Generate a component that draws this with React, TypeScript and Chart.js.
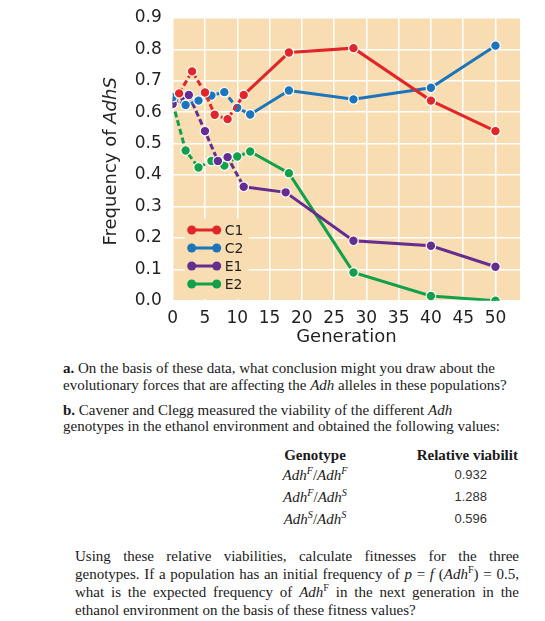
import React, { useEffect, useRef } from "react";
import { Chart, registerables } from "chart.js";

Chart.register(...registerables);

// ---- data ----
const seriesLabels = ["C1", "C2", "E1", "E2"];
const seriesColors = ["#e1262a", "#1c75bc", "#662d91", "#12a04b"];

const c1Gen = [1, 3, 5, 6.5, 8.5, 11, 18, 28, 40, 50];
const c1Freq = [0.66, 0.73, 0.663, 0.592, 0.578, 0.655, 0.79, 0.804, 0.637, 0.54];

const c2Gen = [0, 2, 4, 6, 8, 10, 12, 18, 28, 40, 50];
const c2Freq = [0.648, 0.623, 0.637, 0.653, 0.664, 0.614, 0.593, 0.669, 0.641, 0.678, 0.812];

const e1Gen = [0, 2.5, 5, 7, 8.5, 11, 17.5, 28, 40, 50];
const e1Freq = [0.626, 0.655, 0.54, 0.445, 0.457, 0.363, 0.345, 0.191, 0.175, 0.108];

const e2Gen = [0, 2, 4, 6, 8, 10, 12, 18, 28, 40, 50];
const e2Freq = [0.63, 0.478, 0.424, 0.445, 0.43, 0.459, 0.475, 0.406, 0.09, 0.015, 0.0];

const xTicks = [0, 5, 10, 15, 20, 25, 30, 35, 40, 45, 50];
const yTicks = [0, 0.1, 0.2, 0.3, 0.4, 0.5, 0.6, 0.7, 0.8, 0.9];

const genotypes = [
  ["F", "F"],
  ["F", "S"],
  ["S", "S"],
];
const viabilities = ["0.932", "1.288", "0.596"];

const PLOT_BG = "#f7ddb1";
const TEXT = "#231f20";
const SANS = '"DejaVu Sans", sans-serif';
const SERIF = '"Liberation Serif", "Times New Roman", serif';

const toPoints = (gen: number[], freq: number[]) =>
  gen.map((g, i) => ({ x: g, y: freq[i] }));

const decorPlugin = {
  id: "decor",
  beforeDraw(chart: any) {
    const { ctx, chartArea: a } = chart;
    ctx.save();
    ctx.fillStyle = PLOT_BG;
    ctx.fillRect(a.left, a.top, a.right - a.left, a.bottom - a.top);
    ctx.restore();
  },
  afterDraw(chart: any) {
    const { ctx, chartArea: a } = chart;
    ctx.save();
    // legend box (covers grid)
    ctx.fillStyle = PLOT_BG;
    ctx.fillRect(a.left + 12, a.bottom - 82, 64, 80);
    const rowsY = [-70.7, -52.7, -34.7, -16.7];
    chart.data.datasets.forEach((ds: any, i: number) => {
      const y = a.bottom + rowsY[i];
      const x1 = a.left + 19;
      const x2 = a.left + 44;
      ctx.strokeStyle = ds.borderColor;
      ctx.lineWidth = 3;
      ctx.beginPath();
      ctx.moveTo(x1, y);
      ctx.lineTo(x2, y);
      ctx.stroke();
      ctx.fillStyle = ds.borderColor;
      [x1, x2].forEach((x) => {
        ctx.beginPath();
        ctx.arc(x, y, 4.5, 0, Math.PI * 2);
        ctx.fill();
      });
      ctx.fillStyle = TEXT;
      ctx.font = `14px ${SANS}`;
      ctx.textBaseline = "middle";
      ctx.textAlign = "left";
      ctx.fillText(ds.label, a.left + 52, y + 1);
    });
    // y-axis title with italic part
    const part1 = "Frequency of ";
    const part2 = "AdhS";
    ctx.font = `18px ${SANS}`;
    const w1 = ctx.measureText(part1).width;
    ctx.font = `italic 18px ${SANS}`;
    const w2 = ctx.measureText(part2).width;
    const total = w1 + w2;
    const cx = 103;
    const cy = (a.top + a.bottom) / 2 + 2;
    ctx.translate(cx, cy);
    ctx.rotate(-Math.PI / 2);
    ctx.fillStyle = TEXT;
    ctx.textBaseline = "middle";
    ctx.textAlign = "left";
    ctx.font = `18px ${SANS}`;
    ctx.fillText(part1, -total / 2, 0);
    ctx.font = `italic 18px ${SANS}`;
    ctx.fillText(part2, -total / 2 + w1, 0);
    ctx.restore();
  },
};

function FreqChart() {
  const ref = useRef<HTMLCanvasElement | null>(null);
  useEffect(() => {
    if (!ref.current) return;
    const gens = [c1Gen, c2Gen, e1Gen, e2Gen];
    const freqs = [c1Freq, c2Freq, e1Freq, e2Freq];
    const chart = new Chart(ref.current, {
      type: "line",
      data: {
        datasets: seriesLabels.map((label, i) => ({
          label,
          data: toPoints(gens[i], freqs[i]),
          borderColor: seriesColors[i],
          backgroundColor: seriesColors[i],
          pointBackgroundColor: seriesColors[i],
          pointBorderColor: "#ffffff",
          pointBorderWidth: 1.2,
          pointRadius: 4.8,
          borderWidth: 3,
          tension: 0,
          fill: false,
          segment: {
            borderDash: (ctx: any) => (ctx.p1.parsed.x <= 12.5 ? [6, 3] : undefined),
          },
        })),
      },
      options: {
        animation: false,
        responsive: true,
        maintainAspectRatio: false,
        layout: { padding: { left: 0, right: 17, top: 10, bottom: 0 } },
        plugins: { legend: { display: false }, tooltip: { enabled: false } },
        scales: {
          x: {
            type: "linear",
            min: 0,
            max: 53.8,
            afterBuildTicks: (s: any) => {
              s.ticks = xTicks.map((v) => ({ value: v }));
            },
            afterFit: (s: any) => {
              s.height = 52.3;
              s.paddingLeft = 0;
              s.paddingRight = 0;
            },
            grid: { color: "#ffffff", lineWidth: 1.5, drawTicks: false },
            border: { display: false },
            ticks: {
              color: TEXT,
              padding: 8,
              font: { family: SANS, size: 17 },
              maxRotation: 0,
              autoSkip: false,
            },
            title: {
              display: true,
              text: "Generation",
              color: TEXT,
              font: { family: SANS, size: 18 },
              padding: { top: 0, bottom: 5 },
            },
          },
          y: {
            type: "linear",
            min: 0,
            max: 0.9,
            afterBuildTicks: (s: any) => {
              s.ticks = yTicks.map((v) => ({ value: v }));
            },
            afterFit: (s: any) => {
              s.width = 164.7;
              s.paddingTop = 0;
              s.paddingBottom = 0;
            },
            grid: { color: "#ffffff", lineWidth: 1.5, drawTicks: false },
            border: { display: false },
            ticks: {
              color: TEXT,
              padding: 11,
              font: { family: SANS, size: 17 },
              callback: (v: any) => Number(v).toFixed(1),
            },
          },
        },
      },
      plugins: [decorPlugin],
    });
    return () => chart.destroy();
  }, []);
  return <canvas ref={ref} />;
}

const italic = { fontStyle: "italic" as const };
const sup = { fontSize: "0.68em", lineHeight: 0, verticalAlign: "0.55em" };

function Adh({ s, upright }: { s: string; upright?: boolean }) {
  return (
    <span>
      <span style={italic}>Adh</span>
      <span style={{ ...sup, fontStyle: upright ? "normal" : "italic" }}>{s}</span>
    </span>
  );
}

export default function App() {
  useEffect(() => {
    document.documentElement.style.overflow = "hidden";
    document.body.style.overflow = "hidden";
  }, []);
  const justLine = {
    textAlign: "justify" as const,
    textAlignLast: "justify" as const,
    whiteSpace: "nowrap" as const,
    height: 18.3,
  };
  return (
    <div style={{ position: "relative", width: 529, height: 613, color: "#1a1a1a" }}>
      <div style={{ position: "absolute", left: 0, top: 0, width: 529, height: 345 }}>
        <FreqChart />
      </div>

      <div
        style={{
          position: "absolute",
          left: 55,
          top: 351.5,
          width: 474,
          font: `15px/17px ${SERIF}`,
          whiteSpace: "nowrap",
        }}
      >
        <b>a.</b> On the basis of these data, what conclusion might you draw about the
        <br />
        evolutionary forces that are affecting the <i>Adh</i> alleles in these populations?
      </div>

      <div
        style={{
          position: "absolute",
          left: 55,
          top: 394,
          width: 474,
          font: `15px/16px ${SERIF}`,
          whiteSpace: "nowrap",
        }}
      >
        <b>b.</b> Cavener and Clegg measured the viability of the different <i>Adh</i>
        <br />
        genotypes in the ethanol environment and obtained the following values:
      </div>

      <div
        style={{
          position: "absolute",
          left: 237,
          top: 437,
          width: 140,
          textAlign: "center",
          font: `bold 15px/20px ${SERIF}`,
        }}
      >
        Genotype
      </div>
      <div
        style={{
          position: "absolute",
          left: 408.7,
          top: 437,
          font: `bold 15px/20px ${SERIF}`,
          whiteSpace: "nowrap",
        }}
      >
        Relative viabilit
      </div>
      {genotypes.map((g, i) => (
        <div
          key={"g" + i}
          style={{
            position: "absolute",
            left: 237,
            top: 457 + i * 21.8,
            width: 140,
            textAlign: "center",
            font: `15px/20px ${SERIF}`,
            whiteSpace: "nowrap",
          }}
        >
          <Adh s={g[0]} />/<Adh s={g[1]} />
        </div>
      ))}
      {viabilities.map((v, i) => (
        <div
          key={"v" + i}
          style={{
            position: "absolute",
            left: 422.7,
            top: 457 + i * 21.8,
            width: 80,
            textAlign: "center",
            font: `13px/20px "Liberation Sans", Arial, sans-serif`,
            color: "#333",
          }}
        >
          {v}
        </div>
      ))}

      <div
        style={{
          position: "absolute",
          left: 67,
          top: 538.5,
          width: 444,
          font: `15px/18.3px ${SERIF}`,
        }}
      >
        <div style={justLine}>Using these relative viabilities, calculate fitnesses for the three</div>
        <div style={justLine}>
          genotypes. If a population has an initial frequency of <i>p</i> = <i>f</i> (<Adh s="F" upright />) = 0.5,
        </div>
        <div style={justLine}>
          what is the expected frequency of <Adh s="F" upright /> in the next generation in the
        </div>
        <div style={{ whiteSpace: "nowrap", height: 18.3 }}>
          ethanol environment on the basis of these fitness values?
        </div>
      </div>
    </div>
  );
}
